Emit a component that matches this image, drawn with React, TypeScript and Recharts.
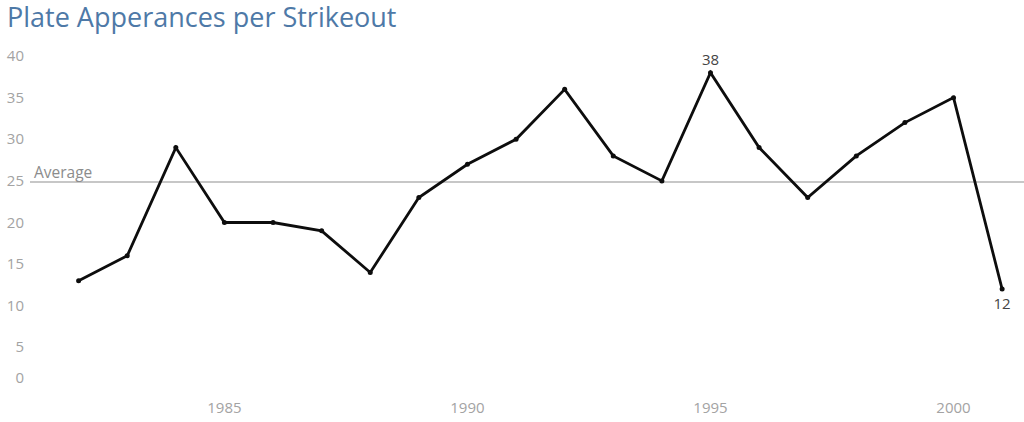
import React from "react";
import { LineChart, Line, XAxis, YAxis, ReferenceLine, LabelList } from "recharts";

const years = [1982, 1983, 1984, 1985, 1986, 1987, 1988, 1989, 1990, 1991, 1992, 1993, 1994, 1995, 1996, 1997, 1998, 1999, 2000, 2001];
const paPerK = [13, 16, 29, 20, 20, 19, 14, 23, 27, 30, 36, 28, 25, 38, 29, 23, 28, 32, 35, 12];
const xTicks = [1985, 1990, 1995, 2000];
const yTicks = [0, 5, 10, 15, 20, 25, 30, 35, 40];
const labelledYears = [1995, 2001];

const data = years.map((year, i) => ({ year, value: paPerK[i] }));
const average = paPerK.reduce((a, b) => a + b, 0) / paPerK.length;

const maxIdx = paPerK.indexOf(Math.max(...paPerK));

const YTick = ({ x, y, payload }: any) => (
  <text
    x={x}
    y={payload.value === 0 ? y - 11 : y}
    dy={5}
    textAnchor="end"
    fill="#a3a3a3"
    fontSize={15}
    fontFamily="Open Sans, sans-serif"
  >
    {payload.value}
  </text>
);

const XTick = ({ x, y, payload }: any) => (
  <text x={x} y={y} dy={16} textAnchor="middle" fill="#a3a3a3" fontSize={15} fontFamily="Open Sans, sans-serif">
    {payload.value}
  </text>
);

const PointLabel = ({ x, y, value, index }: any) => {
  if (!labelledYears.includes(years[index])) return null;
  const above = index === maxIdx;
  return (
    <text
      x={x}
      y={above ? y - 8 : y + 20}
      textAnchor="middle"
      fill="#444"
      fontSize={15}
      fontFamily="Open Sans, sans-serif"
    >
      {value}
    </text>
  );
};

export default function App() {
  return (
    <div style={{ position: "relative", width: 1024, height: 422, background: "#fff" }}>
      <style>{`body{margin:0}`}</style>
      <div
        style={{
          position: "absolute",
          left: 7,
          top: -2,
          fontFamily: "Open Sans, sans-serif",
          fontSize: 27,
          color: "#4e79a7",
          whiteSpace: "nowrap",
        }}
      >
        Plate Apperances per Strikeout
      </div>
      <LineChart width={1024} height={422} data={data} margin={{ top: 56, right: 0, bottom: 3, left: 0 }}>
        <XAxis
          dataKey="year"
          type="number"
          domain={[1981, 2001.45]}
          ticks={xTicks}
          axisLine={false}
          tickLine={false}
          height={30}
          tick={<XTick />}
        />
        <YAxis
          type="number"
          domain={[0, 40]}
          ticks={yTicks}
          axisLine={false}
          tickLine={false}
          width={30}
          tickMargin={0}
          tick={<YTick />}
          interval={0}
        />
        <ReferenceLine
          y={average}
          stroke="#b5b5b5"
          strokeWidth={1.5}
          label={{ value: "Average", position: "insideBottomLeft", fill: "#8c8c8c", fontSize: 15.5, fontFamily: "Open Sans, sans-serif", offset: 4 }}
        />
        <Line
          type="linear"
          dataKey="value"
          stroke="#0d0d0d"
          strokeWidth={2.8}
          dot={{ r: 2.5, fill: "#0d0d0d", stroke: "#0d0d0d", strokeWidth: 0 }}
          activeDot={false}
          isAnimationActive={false}
        >
          <LabelList dataKey="value" content={<PointLabel />} />
        </Line>
      </LineChart>
    </div>
  );
}
